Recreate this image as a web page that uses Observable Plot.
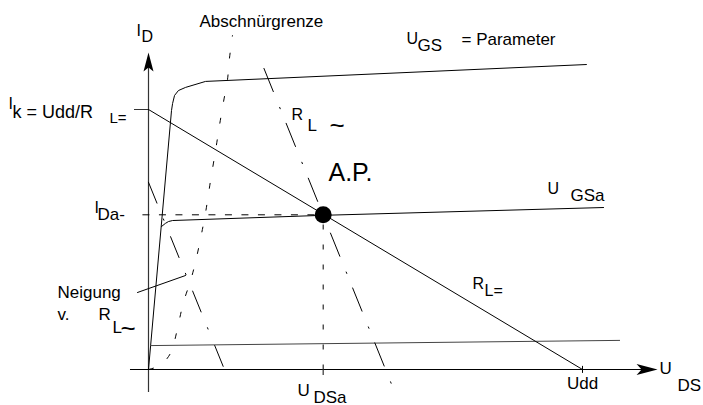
<!DOCTYPE html>
<html><head><meta charset="utf-8">
<script src="https://cdn.jsdelivr.net/npm/d3@7"></script>
<script src="https://cdn.jsdelivr.net/npm/@observablehq/plot@0.6"></script>
<style>body{margin:0;background:#fff}</style>
</head><body><div id="chart"></div>
<script>
// Units: U_DS in V, I_D in mA (schematic values)
const Udd = 20;
const Ik = 10;
const ap = [{u: 8.05, i: 5.95}]; // Arbeitspunkt

// Output characteristics
const curveParam = [ // U_GS = Parameter
  {u: 0, i: 0}, {u: 1.06, i: 9.96}, {u: 1.11, i: 10.23}, {u: 1.20, i: 10.54},
  {u: 1.38, i: 10.73}, {u: 1.71, i: 10.85}, {u: 2.63, i: 11.08}, {u: 20.18, i: 11.73}
];
const curveGSa = [
  {u: 0.60, i: 5.50}, {u: 0.78, i: 5.62}, {u: 0.92, i: 5.69}, {u: 1.11, i: 5.73},
  {u: 8.05, i: 5.93}, {u: 20.97, i: 6.23}
];
const curveLow = [{u: 0.09, i: 0.92}, {u: 21.71, i: 1.12}];

// Abschnürgrenze
const pinchOff = [
  {u: 0, i: 0}, {u: 0.32, i: 0.08}, {u: 0.69, i: 0.27}, {u: 1.01, i: 0.62},
  {u: 1.20, i: 1.10}, {u: 1.38, i: 1.75}, {u: 1.61, i: 2.58}, {u: 1.94, i: 3.42},
  {u: 2.17, i: 4.15}, {u: 2.40, i: 5.04}, {u: 2.63, i: 6.04}, {u: 2.86, i: 7.27},
  {u: 3.09, i: 8.42}, {u: 3.27, i: 9.38}, {u: 3.46, i: 10.31}, {u: 3.64, i: 11.15},
  {u: 3.73, i: 11.96}, {u: 3.87, i: 12.85}
];

// Load lines
const loadDC = [{u: 0, i: Ik}, {u: Udd, i: 0}];          // R_L=
const loadAC = [{u: 5.32, i: 11.58}, {u: 11.24, i: -0.65}]; // R_L~
const slopeAC = [{u: 0, i: 7.2}, {u: 3.5, i: 0}];          // Neigung v. R_L~
const pointer = [{u: -0.507, i: 2.962}, {u: 1.705, i: 3.615}];

// Axis extents and arrow tips
const xAxis = {from: -0.83, to: 23.2, tip: 23.46};
const yAxis = {from: -0.885, to: 12.0, tip: 12.19};

// Labels (text, position in data units, font size)
const labels = [
  {t: "I", u: -0.553, i: 12.846, s: 16},
  {t: "D", u: -0.323, i: 12.615, s: 16},
  {t: "Abschnürgrenze", u: 2.350, i: 13.154, s: 17},
  {t: "U", u: 11.889, i: 12.538, s: 16},
  {t: "GS", u: 12.396, i: 12.231, s: 17},
  {t: "= Parameter", u: 14.424, i: 12.462, s: 17},
  {t: "I", u: -6.452, i: 10.038, s: 16},
  {t: "k = Udd/R", u: -6.267, i: 9.692, s: 18},
  {t: "L=", u: -1.797, i: 9.5, s: 15},
  {t: "R", u: 6.590, i: 9.577, s: 16},
  {t: "L", u: 7.327, i: 9.192, s: 17},
  {t: "~", u: 8.341, i: 9.054, s: 26},
  {t: "A.P.", u: 8.295, i: 7.231, s: 25},
  {t: "U", u: 18.387, i: 6.769, s: 16},
  {t: "GSa", u: 19.447, i: 6.5, s: 17},
  {t: "I", u: -2.488, i: 6.038, s: 16},
  {t: "Da-", u: -2.350, i: 5.731, s: 17},
  {t: "Neigung", u: -4.194, i: 2.731, s: 17},
  {t: "v.", u: -4.194, i: 1.885, s: 17},
  {t: "R", u: -2.304, i: 1.885, s: 17},
  {t: "L", u: -1.659, i: 1.385, s: 17},
  {t: "~", u: -1.290, i: 1.246, s: 26},
  {t: "R", u: 14.931, i: 3.115, s: 16},
  {t: "L=", u: 15.484, i: 2.846, s: 16},
  {t: "U", u: 6.866, i: -1.0, s: 17},
  {t: "DSa", u: 7.604, i: -1.27, s: 17},
  {t: "U", u: 23.548, i: -0.192, s: 17},
  {t: "DS", u: 24.378, i: -0.808, s: 17}
];
const tickLabels = [{t: "Udd", u: Udd, i: -0.731, s: 17}];

const arrowUp = {draw(ctx) { ctx.moveTo(0, 0); ctx.lineTo(5, 19); ctx.lineTo(0, 15); ctx.lineTo(-5, 19); ctx.closePath(); }};
const arrowRight = {draw(ctx) { ctx.moveTo(0, 0); ctx.lineTo(-21, -5.5); ctx.lineTo(-16, 0); ctx.lineTo(-21, 5.5); ctx.closePath(); }};

const sizes = [...new Set(labels.map(d => d.s))];

const chart = Plot.plot({
  width: 703, height: 405, margin: 0,
  x: {domain: [0, Udd], range: [148, 582], axis: null},
  y: {domain: [0, Ik], range: [369, 109], axis: null},
  style: {fontFamily: "'Liberation Sans', Arial, Helvetica, sans-serif", background: "#fff", color: "#000"},
  marks: [
    // axes
    Plot.ruleX([0], {y1: yAxis.from, y2: yAxis.to, stroke: "#333", strokeWidth: 1.2}),
    Plot.ruleY([0], {x1: xAxis.from, x2: xAxis.to, stroke: "#000", strokeWidth: 1.2}),
    Plot.dot([{u: 0, i: yAxis.tip}], {x: "u", y: "i", symbol: arrowUp, fill: "#000", stroke: "none"}),
    Plot.dot([{u: xAxis.tip, i: 0}], {x: "u", y: "i", symbol: arrowRight, fill: "#000", stroke: "none"}),
    // ticks
    Plot.ruleY([Ik], {x1: -0.645, x2: 0, stroke: "#333", strokeWidth: 1}),
    Plot.ruleX([Udd], {y1: -0.15, y2: 0.12, stroke: "#000", strokeWidth: 1}),
    Plot.ruleX([ap[0].u], {y1: -0.23, y2: 0, stroke: "#333", strokeWidth: 1.2}),
    // characteristics
    Plot.line(curveParam, {x: "u", y: "i", stroke: "#000", strokeWidth: 1}),
    Plot.line(curveGSa, {x: "u", y: "i", stroke: "#000", strokeWidth: 1}),
    Plot.line(curveLow, {x: "u", y: "i", stroke: "#444", strokeWidth: 1}),
    // pinch-off boundary
    Plot.line(pinchOff, {x: "u", y: "i", curve: "catmull-rom", stroke: "#000", strokeWidth: 1, strokeDasharray: "5,17"}),
    // load lines
    Plot.line(loadDC, {x: "u", y: "i", stroke: "#000", strokeWidth: 1}),
    Plot.line(loadAC, {x: "u", y: "i", stroke: "#000", strokeWidth: 1, strokeDasharray: "25,17,1.5,15.7"}),
    Plot.line(slopeAC, {x: "u", y: "i", stroke: "#000", strokeWidth: 1, strokeDasharray: "22.5,17,1.5,17.7"}),
    Plot.line(pointer, {x: "u", y: "i", stroke: "#000", strokeWidth: 1}),
    // operating point projections
    Plot.link(ap, {x1: "u", y1: 0, x2: "u", y2: "i", stroke: "#000", strokeWidth: 1, strokeDasharray: "5,15"}),
    Plot.link(ap, {x1: -0.28, y1: "i", x2: "u", y2: "i", stroke: "#000", strokeWidth: 1, strokeDasharray: "7,9.5"}),
    Plot.dot(ap, {x: "u", y: "i", r: 8.5, fill: "#000", stroke: "none"}),
    // labels
    ...sizes.map(s => Plot.text(labels.filter(d => d.s === s), {
      x: "u", y: "i", text: "t", fontSize: s, lineAnchor: "bottom",
      textAnchor: "start", fill: "#000"
    })),
    Plot.text(tickLabels, {x: "u", y: "i", text: "t", fontSize: 17, lineAnchor: "bottom", textAnchor: "middle", fill: "#000"})
  ]
});
document.getElementById("chart").appendChild(chart);
</script>
</body></html>
